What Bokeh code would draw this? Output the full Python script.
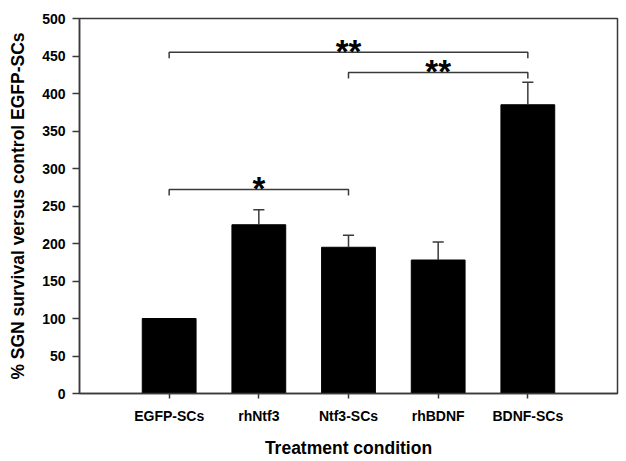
from bokeh.plotting import figure
from bokeh.models import FixedTicker, ColumnDataSource, Range1d
from bokeh.embed import file_html
from bokeh.resources import INLINE
from bokeh.core.properties import value

# ---- data ----
categories = ["EGFP-SCs", "rhNtf3", "Ntf3-SCs", "rhBDNF", "BDNF-SCs"]
means = [100, 225, 195, 178, 385]
upper_err = [0, 20, 16, 24, 30]
y_ticks = [0, 50, 100, 150, 200, 250, 300, 350, 400, 450, 500]
# significance brackets: (from index, to index, label, bracket level)
comp_from = [0, 2, 0]
comp_to = [4, 4, 2]
comp_label = ["**", "**", "*"]
comp_level = [455, 428, 272]

FONT = "Liberation Sans"
AX = "#3a3a3a"

xs = [i + 1 for i in range(len(categories))]

p = figure(width=626, height=461, output_backend="svg", toolbar_location=None,
           x_range=Range1d(0, 6), y_range=Range1d(0, 500),
           min_border_left=79, min_border_right=9, min_border_top=18, min_border_bottom=68)
p.grid.visible = False
p.outline_line_color = AX
p.outline_line_width = 1.5
p.background_fill_color = "white"

src = ColumnDataSource(dict(x=xs, top=means))
p.vbar(x="x", top="top", width=0.6, source=src, fill_color="black", line_color="black")

# error bars (upper only)
ex = [x for x, e in zip(xs, upper_err) if e > 0]
eb = [m for m, e in zip(means, upper_err) if e > 0]
et = [m + e for m, e in zip(means, upper_err) if e > 0]
p.segment(x0=ex, y0=eb, x1=ex, y1=et, line_color=AX, line_width=1.5)
p.segment(x0=[x - 0.062 for x in ex], y0=et, x1=[x + 0.062 for x in ex], y1=et,
          line_color=AX, line_width=1.5)

# significance brackets
drop = 8
bxs, bys = [], []
for a, b, lv in zip(comp_from, comp_to, comp_level):
    x1, x2 = xs[a], xs[b]
    bxs.append([x1, x1, x2, x2])
    bys.append([lv - drop, lv, lv, lv - drop])
p.multi_line(xs=bxs, ys=bys, line_color=AX, line_width=1.5)
p.text(x=[(xs[a] + xs[b]) / 2 for a, b in zip(comp_from, comp_to)], y=comp_level,
       text=comp_label, text_font=value(FONT), text_font_style="bold",
       text_font_size="33px", text_align="center", text_baseline="alphabetic",
       y_offset=-1, text_color="black")

# axes
p.xaxis.ticker = FixedTicker(ticks=xs)
p.xaxis.major_label_overrides = {x: c for x, c in zip(xs, categories)}
p.yaxis.ticker = FixedTicker(ticks=y_ticks)
for ax in (p.xaxis, p.yaxis):
    ax.axis_line_color = AX
    ax.axis_line_width = 1.5
    ax.major_tick_line_color = AX
    ax.major_tick_line_width = 1.5
    ax.major_tick_in = 0
    ax.minor_tick_line_color = None
    ax.major_label_text_font = FONT
    ax.major_label_text_font_style = "bold"
    ax.major_label_text_font_size = "14px"
    ax.major_label_text_color = "black"
    ax.axis_label_text_font = FONT
    ax.axis_label_text_font_style = "bold"
    ax.axis_label_text_font_size = "17.5px"
    ax.axis_label_text_color = "black"
p.xaxis.major_tick_out = 5
p.yaxis.major_tick_out = 7
p.xaxis.major_label_standoff = 9
p.yaxis.major_label_standoff = 7
p.xaxis.axis_label = "Treatment condition"
p.yaxis.axis_label = "% SGN survival versus control EGFP-SCs"
p.xaxis.axis_label_standoff = 11
p.yaxis.axis_label_standoff = 11

open("out.html", "w").write(file_html(p, INLINE))
